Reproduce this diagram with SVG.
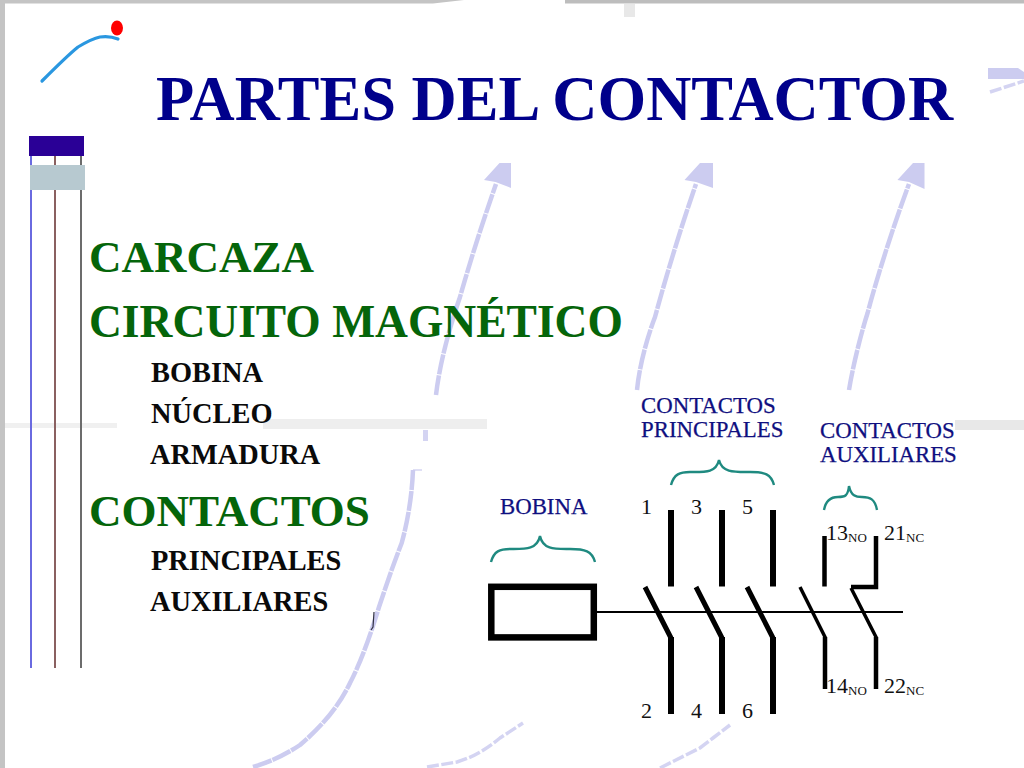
<svg xmlns="http://www.w3.org/2000/svg" width="1024" height="768" viewBox="0 0 1024 768">
<style>
text{font-family:"Liberation Serif","Times New Roman",serif}
.t{font-weight:bold;fill:#00008b;font-size:62.55px}
.h{font-weight:bold;fill:#05650a;font-size:45.5px}
.h2{font-size:45px}
.s{font-weight:bold;fill:#0a0a0a;font-size:28.4px}
.b{fill:#0f0f80;font-size:22.8px;stroke:#0f0f80;stroke-width:.25}
.n{fill:#111;font-size:22px}
.sub{font-size:13px}
.g{fill:none;stroke:#ccccf0;stroke-width:4.5;stroke-dasharray:20 1;stroke-linejoin:round}
.g2{fill:none;stroke:#d4d4f2;stroke-width:3.5;stroke-dasharray:12 2.5}
.ah{fill:#ccccf0}
.br{fill:none;stroke:#1f8a80;stroke-width:2.4}
.k{fill:none;stroke:#000;stroke-width:6}
.d{fill:none;stroke:#000;stroke-width:5}
.k2{fill:none;stroke:#000;stroke-width:4.5}
.d2{fill:none;stroke:#000;stroke-width:3.5}
</style>
<rect width="1024" height="768" fill="#fff"/>
<g id="background">
<rect x="0" y="0" width="5" height="768" fill="#c4c4c4"/>
<path d="M0 0H464L433 3.5H0Z" fill="#c4c4c4"/>
<rect x="565" y="0" width="459" height="3.5" fill="#bdbdbd"/>
<rect x="5" y="423" width="112" height="5" fill="#f0f0f0"/>
<rect x="263" y="419" width="224" height="10" fill="#eeeeee"/>
<rect x="955" y="420" width="69" height="10" fill="#e8e8e8"/>
<rect x="624" y="4" width="11" height="13" fill="#e8e8e8"/>
<rect x="423" y="430" width="5" height="11" fill="#d4d4f2"/>
<path d="M988 68H1018L1024 72V79H988Z" fill="#ccccf0"/>
<path class="g2" d="M990 92L1024 81" stroke-width="3"/>
<path class="g" d="M436 395C440 360 452 320 460 297C470 262 480 230 496 184"/>
<path class="ah" d="M511 163V188L495.5 182L484 180L499.5 163Z"/>
<path class="g" d="M637 390C640 360 650 330 655 317C665 280 680 230 696 184"/>
<path class="ah" d="M713 163V188L696 182L684.5 180L700 163Z"/>
<path class="g" d="M849 390C853 365 862 330 867.6 313C875 285 890 235 909 184"/>
<path class="ah" d="M924.5 163V189L909 182L897.4 180L913 163Z"/>
<path d="M413 470H422" fill="none" stroke="#d4d4f2" stroke-width="1.5"/>
<path class="g" d="M413 470C412 495 408 520 401.7 543C395 560 388 580 379 607C372 630 362 660 350 683C338 708 320 728 300 745C285 755 270 762 253 767"/>
<path class="g2" d="M427 767L457 762C470 758 483 752 500 738L523 723"/>
<path class="g2" d="M660 768L700 748L713 738L730 725"/>
<path d="M374 612L373 627L371 630" fill="none" stroke="#334" stroke-width="1.2"/>
</g>
<g id="logo">
<path d="M42 81C55 68 68 55 78 47C88 41 95 38 100 37C107 36 113 37 118 39" fill="none" stroke="#2a97e0" stroke-width="3.2" stroke-linecap="round"/>
<ellipse cx="117" cy="28" rx="6" ry="7.5" fill="#f00"/>
<path d="M31 150V668" stroke="#6a6ae0" stroke-width="2"/>
<path d="M55 150V668" stroke="#8a6060" stroke-width="2"/>
<path d="M81 150V668" stroke="#6c6c6c" stroke-width="2"/>
<rect x="29" y="136" width="55" height="20" fill="#2a0096"/>
<rect x="30" y="165" width="55" height="25" fill="#b7c9d0"/>
</g>
<g id="title"><text class="t" x="156" y="120">PARTES DEL CONTACTOR</text></g>
<g id="list">
<text class="h h2" x="89" y="272">CARCAZA</text>
<text class="h" x="89" y="337">CIRCUITO MAGNÉTICO</text>
<text class="s" x="151" y="382">BOBINA</text>
<text class="s" x="151" y="423">NÚCLEO</text>
<text class="s" x="150" y="464">ARMADURA</text>
<text class="h h2" x="89" y="526">CONTACTOS</text>
<text class="s" x="151" y="570">PRINCIPALES</text>
<text class="s" x="150" y="611">AUXILIARES</text>
</g>
<g id="labels">
<text class="b" x="641" y="413">CONTACTOS</text>
<text class="b" x="641" y="437">PRINCIPALES</text>
<text class="b" x="820" y="438">CONTACTOS</text>
<text class="b" x="820" y="462">AUXILIARES</text>
<text class="b" x="500" y="514">BOBINA</text>
<text class="n" x="641" y="514">1</text>
<text class="n" x="691" y="514">3</text>
<text class="n" x="742" y="514">5</text>
<text class="n" x="641" y="718">2</text>
<text class="n" x="691" y="718">4</text>
<text class="n" x="742" y="718">6</text>
<text class="n" x="826" y="540">13<tspan class="sub" dy="2">NO</tspan></text>
<text class="n" x="884" y="540">21<tspan class="sub" dy="2">NC</tspan></text>
<text class="n" x="826" y="693">14<tspan class="sub" dy="2">NO</tspan></text>
<text class="n" x="884" y="693">22<tspan class="sub" dy="2">NC</tspan></text>
</g>
<g id="braces">
<path class="br" d="M491 562C494 551 500 549 510 549C525 549 537 550 540 536C543 550 555 549 570 549C585 549 592 551 595 562"/>
<path class="br" d="M671 485C674 474 680 472 690 472C705 472 716 473 719 460C722 473 735 472 750 472C765 472 771 474 774 485"/>
<path class="br" d="M824 510C826 499 832 497 838 497C845 497 848 496 849 486C851 496 856 497 862 497C870 497 875 499 877 510"/>
</g>
<g id="connectors">
<rect x="491.3" y="586.8" width="102.5" height="50.6" fill="#fff" stroke="#000" stroke-width="6.5"/>
<path d="M597 612H903" stroke="#000" stroke-width="2" fill="none"/>
<path class="k" d="M671 510V586.5M722 510V586.5M773 510V586.5"/>
<path class="k" d="M671 637V714M722 637V714M773 637V714"/>
<path class="d" d="M645 587L671 638M696 587L722 638M747 587L773 638"/>
<path class="k2" d="M824.5 536V586.5M876 536V587H851"/>
<path class="k2" d="M825 637V689M876 637V689"/>
<path class="d2" d="M800 587L825.5 638M851 588L876.5 638"/>
</g>
</svg>
